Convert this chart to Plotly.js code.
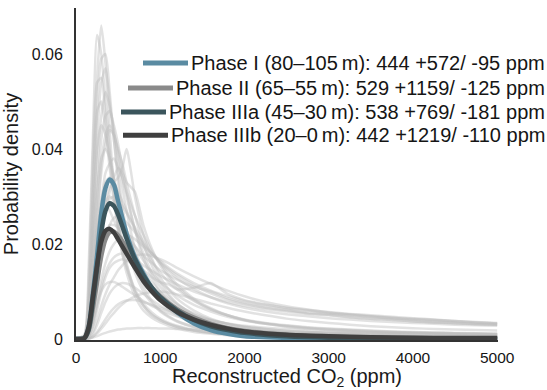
<!DOCTYPE html>
<html>
<head>
<meta charset="utf-8">
<script src="https://cdn.plot.ly/plotly-3.0.1.min.js"></script>
<style>
  html, body { margin: 0; padding: 0; background: #fff; }
  #chart { width: 547px; height: 390px; }
</style>
</head>
<body>
<div id="chart"></div>
<script>
// ---------- DATA (densities in units of 1e-3 per ppm) ----------
const co2Grid = [0,50,100,150,200,250,300,350,400,450,500,600,700,800,900,1000,1200,1400,1600,1800,2000,2500,3000,3500,4000,4500,5000];

const phaseI    = [0,0,0.2,2.5,9.5,17.5,26.5,31.8,33.6,32.5,29,22.2,17.2,13.8,10.8,8.8,5.6,3.3,1.9,1.1,0.6,0.25,0.1,0.05,0,0,0];
const phaseII   = [0,0,0.2,1.8,6.5,12,17.5,21,22.5,22.6,21.8,19.2,16,13.2,10.8,9,6.3,4.5,3.2,2.3,1.7,0.9,0.5,0.3,0.2,0.1,0.1];
const phaseIIIa = [0,0,0.2,2,8,15,22.5,27,28.6,28,26.2,21.2,16.8,13.4,10.8,8.8,6,4,2.7,1.9,1.3,0.6,0.3,0.2,0.1,0.05,0];
const phaseIIIb = [0,0,0.2,2.5,9,15.5,20.5,22.8,23.2,22.4,21,18,15,12.2,10,8.2,5.7,4.1,3,2.2,1.6,0.9,0.6,0.4,0.3,0.2,0.2];

const phaseLabels = [
  "Phase I (80\u2013105\u2009m): 444 +572/ -95 ppm",
  "Phase II (65\u201355\u2009m): 529 +1159/ -125 ppm",
  "Phase IIIa (45\u201330\u2009m): 538 +769/ -181 ppm",
  "Phase IIIb (20\u20130\u2009m): 442 +1219/ -110 ppm"
];

// individual sample densities (grey background curves)
const grayGrid = [0,100,150,200,250,300,350,400,450,500,550,600,700,800,900,1000,1100,1200,1400,1600,1800,2000,2250,2500,2750,3000,3250,3500,3750,4000,4250,4500,4750,5000];
const g1  = [0,0.5,8,30,55,66,58,44,32,24,18,14,9,6,4.5,3.5,2.8,2.2,1.5,1.1,0.8,0.6,0.5,0.4,0.3,0.3,0.2,0.2,0.2,0.1,0.1,0.1,0.1,0.1];
const g2  = [0,1,15,42,64,60,50,40,33,25,20,16,10,7,5,4,3.2,2.6,1.8,1.3,1,0.8,0.6,0.5,0.4,0.3,0.3,0.2,0.2,0.2,0.2,0.1,0.1,0.1];
const g3  = [0,0.3,5,22,42,54,57,50,42,35,28,23,15,11,8,6,4.8,3.8,2.6,1.9,1.4,1.1,0.8,0.6,0.5,0.4,0.4,0.3,0.3,0.2,0.2,0.2,0.2,0.2];
const g4  = [0,0.2,4,18,35,47,52,49,44,38,32,27,19,14,10.5,8,6.3,5,3.4,2.4,1.7,1.3,1,0.8,0.6,0.5,0.4,0.4,0.3,0.3,0.3,0.2,0.2,0.2];
const g5  = [0,0.2,3,14,30,42,47,48,45,41,36,31,23,17,13,10,8,6.5,4.5,3.2,2.4,1.8,1.3,1,0.8,0.7,0.6,0.5,0.4,0.4,0.3,0.3,0.3,0.3];
const g6  = [0,0.1,2,10,24,35,41,44,43,40,37,33,26,20,15.5,12,9.5,7.5,5,3.5,2.5,1.9,1.4,1.1,0.9,0.8,0.7,0.6,0.5,0.5,0.4,0.4,0.4,0.3];
const g7  = [0,0.1,1.5,7,16,24,29,32,33,34,36,40,30,22,17,13,10.5,8.5,6,4.3,3.2,2.5,1.9,1.5,1.2,1,0.9,0.8,0.7,0.6,0.5,0.5,0.4,0.4];
const g8  = [0,0.1,2,9,20,29,35,37,38,36,34,31,26,22,18.5,16,13.5,11.5,8.5,6.5,5,4,3.2,2.6,2.2,1.9,1.7,1.5,1.3,1.2,1.1,1,0.9,0.9];
const g9  = [0,0.1,2,10,21,29,33,34,33,31,29,27,23,19.5,16.5,14,12,10.5,8,6.2,5,4.1,3.4,2.9,2.5,2.2,2,1.8,1.6,1.5,1.4,1.3,1.2,1.1];
const g10 = [0,0.1,1.5,7,15,22,27,29.5,30,29,28,26.5,23.5,20.5,18,16,14.3,12.8,10.5,8.8,7.5,6.6,5.8,5.2,4.8,4.4,4.1,3.8,3.6,3.4,3.2,3,2.9,2.8];
const g11 = [0,0.1,1,5,11,17,21,24,25.5,26,25.5,24.5,22.5,20,18,16.2,14.7,13.4,11.3,9.6,8.3,7.4,6.6,6,5.6,5.3,5,4.8,4.5,4.2,4,3.7,3.5,3.3];
const g12 = [0,0.1,0.8,3.5,8,12.5,16,18.5,20,21,21.5,22,21,19.5,18,16.5,15,13.8,11.8,10.2,9,8,7.2,6.6,6.1,5.7,5.3,5,4.7,4.4,4.1,3.8,3.6,3.4];
const g13 = [0,0.1,0.6,3,7,11,14,16,17.2,17.8,18,17.7,16.8,15.5,14.4,13.3,12.4,11.5,10,8.8,7.8,7,6.3,5.8,5.3,5,4.6,4.3,4,3.8,3.5,3.3,3.1,3];
const g14 = [0,0.05,0.5,2.5,6,10,13,15,16,16.5,16.8,16.5,15.5,14.5,13,12,11.5,10.5,10.8,11.8,9.5,8.2,7.3,6.5,6,5.5,5.2,4.8,4.5,4.2,4,3.8,3.5,3.3];
const g15 = [0,0,0.2,1,3,5.5,7.8,9.6,10.8,11.5,11.8,11.7,10.8,9.5,8.2,7,6,5.2,4,3.1,2.5,2,1.6,1.3,1.1,1,0.9,0.8,0.7,0.7,0.6,0.6,0.5,0.5];
const g16 = [0,0,0.1,0.5,1.5,2.8,4.2,5.5,6.5,7.3,7.8,8.1,8.2,7.8,7.2,6.6,6,5.5,4.6,3.9,3.3,2.8,2.4,2.1,1.8,1.6,1.5,1.4,1.3,1.2,1.1,1,1,0.9];
const g17 = [0,0,0.1,0.3,0.6,1,1.3,1.6,1.8,2,2.1,2.2,2.3,2.3,2.3,2.2,2.2,2.1,2,1.9,1.8,1.7,1.6,1.5,1.5,1.4,1.4,1.3,1.3,1.2,1.2,1.1,1.1,1.1];
const g18 = [0,0.3,4,14,23,27,28,27,25,23,21,19,15.5,12.8,10.6,9,7.7,6.7,5.1,4,3.2,2.6,2.1,1.7,1.4,1.2,1.1,1,0.9,0.8,0.7,0.7,0.6,0.6];
const g19 = [0,0.4,7,24,40,45,43,38,33,29,25,22,17,13.5,11,9,7.5,6.3,4.6,3.4,2.6,2,1.6,1.3,1.1,0.9,0.8,0.7,0.6,0.6,0.5,0.5,0.4,0.4];
const g20 = [0,0,0.3,1.5,4,7,9.5,11.5,13,14.5,15.5,16.5,17.5,17.8,17.5,16.8,16,15,13.2,11.6,10.2,9,7.8,6.9,6.2,5.6,5.1,4.7,4.3,4,3.7,3.5,3.3,3.1];
const g21 = [0,0.3,6,26,48,59,60,52,42,33,26,21,14,10,7.5,5.8,4.6,3.7,2.5,1.8,1.3,1,0.7,0.6,0.5,0.4,0.3,0.3,0.2,0.2,0.2,0.2,0.1,0.1];
const g22 = [0,0.1,1,4,7.5,10,11.5,12,12,11.6,11,10.4,9.2,8,7,6.2,5.4,4.8,3.8,3,2.4,2,1.6,1.3,1.1,1,0.9,0.8,0.7,0.6,0.6,0.5,0.5,0.5];
const g23 = [0,0.5,9,32,48,50,44,36,29,23,18,15,10,7,5.2,4,3.2,2.6,1.8,1.3,1,0.8,0.6,0.5,0.4,0.3,0.3,0.3,0.2,0.2,0.2,0.2,0.2,0.2];
const g24 = [0,0.3,5,18,31,38,40,38,34,30,26,23,18,14.5,12,10,8.5,7.2,5.4,4.1,3.2,2.6,2.1,1.7,1.5,1.3,1.2,1.1,1,0.9,0.8,0.8,0.7,0.7];
const g25 = [0,0.1,1.5,6,14,21,27,31,34,36,35,33,31,24,19,15.5,13,11,8.2,6.3,5,4,3.3,2.8,2.4,2.1,1.9,1.7,1.5,1.4,1.3,1.2,1.1,1];
const g26 = [0,0.1,1.2,5.5,12,18,22,24,24,23.5,22.5,21.5,19.5,17.5,16,14.5,13.5,12.5,11,10,8.6,7.6,6.8,6.2,5.4,5.1,4.6,4.3,4.1,3.7,3.5,3.4,3.1,3];
const g27 = [0,0.8,12,38,54,55,47,38,30,24,19,15.5,10.5,7.5,5.6,4.3,3.4,2.8,1.9,1.4,1.1,0.8,0.6,0.5,0.4,0.4,0.3,0.3,0.2,0.2,0.2,0.2,0.2,0.2];
const g28 = [0,0.2,3,11,20,26,29,30,29,27,25,23,19.5,16.5,14,12,10.5,9.2,7.2,5.8,4.7,3.9,3.2,2.7,2.3,2,1.8,1.6,1.5,1.4,1.3,1.2,1.1,1];
const g29 = [0,0,0.1,0.5,1.2,2.2,3.3,4.5,5.5,6.5,7.3,8,9,9.6,9.9,10,9.8,9.4,8.5,7.5,6.6,5.8,5,4.3,3.8,3.4,3,2.7,2.5,2.3,2.1,2,1.9,1.8];
const g30 = [0,0.2,2.5,11,25,37,43,45,43,39,34,30,23,18,14,11,9,7.4,5.2,3.8,2.8,2.1,1.6,1.3,1,0.9,0.8,0.7,0.6,0.5,0.5,0.4,0.4,0.4];
const graySamples = [g1,g2,g3,g4,g5,g6,g7,g8,g9,g10,g11,g12,g13,g14,g15,g16,g17,g18,g19,g20,g21,g22,g23,g24,g25,g26,g27,g28,g29,g30];

const xTicks = [0,1000,2000,3000,4000,5000];
const yTickVals = [0,0.02,0.04,0.06];
const yTickText = ["0","0.02","0.04","0.06"];

// ---------- STYLE ----------
const phaseColors = ["#5a8ba2", "#8a8a8a", "#3b555c", "#3f3f3f"];
const FONT = "Liberation Sans, Arial, sans-serif";
const toDensity = arr => arr.map(v => v * 1e-3);   // unit conversion only

const traces = [];
graySamples.forEach(s => traces.push({
  x: grayGrid, y: toDensity(s), type: "scatter", mode: "lines",
  line: {color: "rgba(190,190,190,0.45)", width: 2.5, shape: "spline", smoothing: 0.6},
  hoverinfo: "skip", showlegend: false
}));
[phaseI, phaseII, phaseIIIa, phaseIIIb].forEach((s, i) => traces.push({
  x: co2Grid, y: toDensity(s), type: "scatter", mode: "lines",
  line: {color: phaseColors[i], width: 4.5, shape: "spline", smoothing: 0.8},
  name: phaseLabels[i], showlegend: false
}));

const legendY = [0.834, 0.759, 0.687, 0.617];
const annotations = phaseLabels.map((t, i) => ({
  text: t, xref: "paper", yref: "paper", x: 1.117, y: legendY[i],
  xanchor: "right", yanchor: "middle", showarrow: false,
  font: {family: FONT, size: 20, color: "#151515"}
}));

const layout = {
  width: 547, height: 390,
  margin: {l: 76, r: 49, t: 8, b: 50},
  paper_bgcolor: "#fff", plot_bgcolor: "#fff",
  showlegend: false,
  font: {family: FONT, color: "#1a1a1a"},
  xaxis: {
    range: [0, 5010], tickvals: xTicks, ticks: "", showgrid: false, zeroline: false,
    showline: true, linecolor: "#333", linewidth: 2,
    tickfont: {family: FONT, size: 15.5, color: "#151515"}, ticklabelstandoff: 2,
    title: {text: "Reconstructed CO<sub>2</sub> (ppm)", font: {family: FONT, size: 20, color: "#1a1a1a"}, standoff: 4}
  },
  yaxis: {
    range: [-0.0002, 0.0697], tickvals: yTickVals, ticktext: yTickText, ticks: "",
    showgrid: false, zeroline: false, showline: true, linecolor: "#333", linewidth: 2,
    tickfont: {family: FONT, size: 16, color: "#151515"}, ticklabelstandoff: 8,
    title: {text: "Probability density", font: {family: FONT, size: 20, color: "#1a1a1a"}, standoff: 8}
  },
  annotations: annotations
};

const gd = document.getElementById("chart");
Plotly.newPlot(gd, traces, layout, {staticPlot: true}).then(() => {
  // legend swatches placed just left of each right-aligned label
  const sz = gd._fullLayout._size;
  const gdRect = gd.getBoundingClientRect();
  const texts = gd.querySelectorAll(".annotation .annotation-text");
  const shapes = [];
  texts.forEach((el, i) => {
    const r = el.getBoundingClientRect();
    const left = r.left - gdRect.left - 3;
    const yc = legendY[i];
    const x1 = (left - sz.l) / sz.w;
    const x0 = (left - 45 - sz.l) / sz.w;
    shapes.push({type: "line", xref: "paper", yref: "paper", x0: x0, x1: x1, y0: yc, y1: yc,
      line: {color: phaseColors[i], width: 5}});
  });
  return Plotly.relayout(gd, {shapes: shapes});
});
</script>
</body>
</html>
